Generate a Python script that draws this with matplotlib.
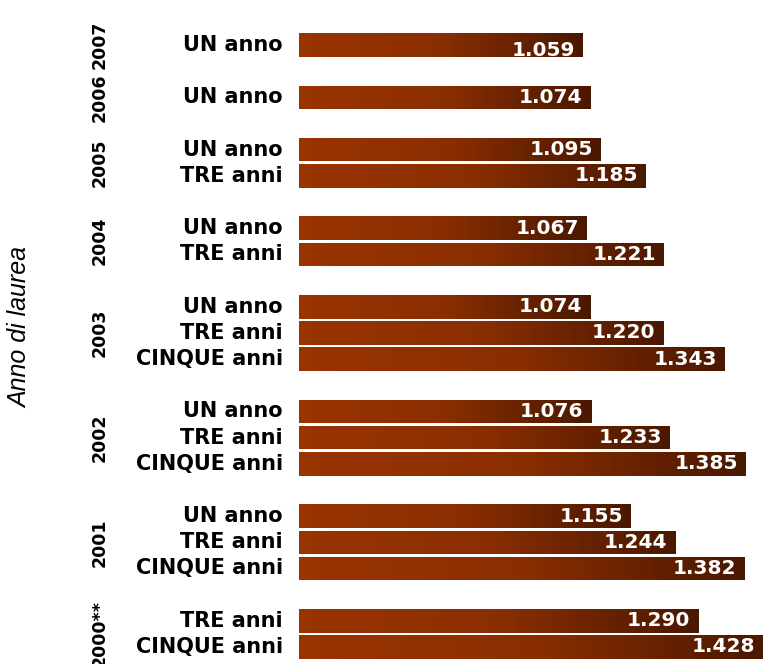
import matplotlib
matplotlib.use("Agg")
import matplotlib.pyplot as plt
import matplotlib.transforms as mtransforms
from matplotlib.colors import LinearSegmentedColormap
import numpy as np

# data (stipendio medio netto, euro)
years = ['2007', '2006', '2005', '2004', '2003', '2002', '2001', '2000**']
series = ['UN anno', 'TRE anni', 'CINQUE anni']
un_anno = [1059, 1074, 1095, 1067, 1074, 1076, 1155, None]
tre_anni = [None, None, 1185, 1221, 1220, 1233, 1244, 1290]
cinque_anni = [None, None, None, None, 1343, 1385, 1382, 1428]

W, H = 763, 664
fig = plt.figure(figsize=(W / 100, H / 100), dpi=100)
ax = fig.add_axes([299 / W, 0, 1 - 299 / W, 1])
ax.set_axis_off()

cmap = LinearSegmentedColormap.from_list('brown', ['#9a3400', '#8a2e00', '#4a1800'])

# build rows: one slot per bar, one empty slot between years
pos, vals, labs, year_pos = [], [], [], []
slot = 0
for i, y in enumerate(years):
	first = slot
	for name, s in zip(series, [un_anno, tre_anni, cinque_anni]):
		if s[i] is not None:
			pos.append(slot)
			vals.append(s[i])
			labs.append(name)
			slot += 1
	year_pos.append((first + slot - 1) / 2)
	slot += 1

x0, x1 = 491, 1419

bars = ax.barh(pos, vals, height=0.9, color='none', edgecolor='none')
grad = np.linspace(0, 1, 256).reshape(1, -1)
for b, p, v in zip(bars, pos, vals):
	im = ax.imshow(grad, cmap=cmap, aspect='auto',
		extent=[x0, v, p + 0.45, p - 0.45], zorder=2)
	im.set_clip_path(b)

ax.set_xlim(x0, x1)
ax.set_ylim(23.65, -1.72)

tr = mtransforms.blended_transform_factory(fig.transFigure, ax.transData)
for i, (p, v, l) in enumerate(zip(pos, vals, labs)):
	ax.text(283 / W, p, l, transform=tr, ha='right', va='center',
		fontsize=15, fontweight='bold', color='black')
	txt = '{:,}'.format(v).replace(',', '.')
	dy = -5 if i == 0 else 0
	ax.annotate(txt, xy=(min(v, x1), p), xytext=(-8, dy), textcoords='offset pixels',
		ha='right', va='center', fontsize=14.5, fontweight='bold',
		color='white', zorder=3, annotation_clip=False)

for y, yp in zip(years, year_pos):
	ax.text(100 / W, yp, y, transform=tr, rotation=90, ha='center',
		va='center', fontsize=12.5, fontweight='bold', color='black')

fig.text(20 / W, 1 - 328 / H, 'Anno di laurea', rotation=90, ha='center',
	va='center', fontsize=18, style='italic', family='Liberation Sans')

fig.savefig('out.png', dpi=100)
